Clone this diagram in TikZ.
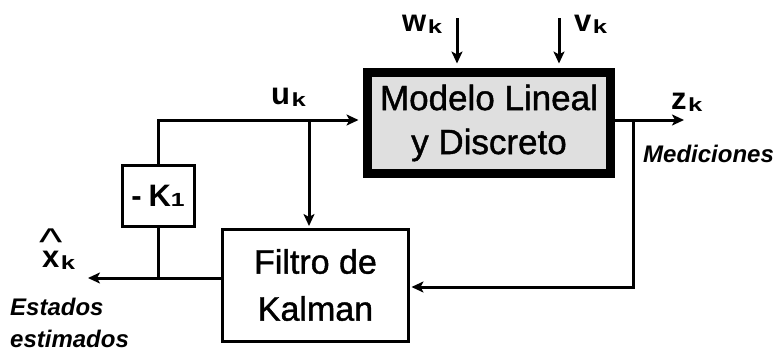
\documentclass[tikz,border=0pt]{standalone}
\usepackage{fontspec}
\setmainfont{Liberation Sans}
\newfontfamily\boxfont{Liberation Sans}[FakeBold=1.2]
\usetikzlibrary{arrows.meta}
% signal name: bold letter followed by a small, wide subscript
\newcommand\sigl[2]{{\fontsize{31}{31}\selectfont\bfseries #1}\kern1.5pt\raisebox{-2pt}{\fontsize{19}{19}\selectfont\bfseries\scalebox{1.35}[1]{#2}}}
\begin{document}
\begin{tikzpicture}[x=1pt,y=-1pt,
  wire/.style={line width=3pt},
  flow/.style={wire,-{Stealth[length=12pt,width=11pt,inset=3pt]}},
  plant/.style={draw,line width=9pt,fill=gray!25,minimum width=243pt,minimum height=101pt,
    align=center,font=\boxfont\fontsize{35}{44}\selectfont,inner sep=0pt},
  block/.style={draw,line width=3pt,align=center,inner sep=0pt},
  sig/.style={inner sep=0pt,anchor=base west},
  note/.style={inner sep=0pt,anchor=base west,font=\fontsize{24}{24}\selectfont\bfseries\itshape}]
\useasboundingbox (0,0) rectangle (777,351);

% blocks
\node[plant] (model) at (489,123) {Modelo Lineal\\y Discreto};
\node[block,minimum width=186pt,minimum height=112pt,font=\boxfont\fontsize{34}{47}\selectfont]
  (kalman) at (315.5,285) {Filtro de\\Kalman};
\node[block,minimum width=72pt,minimum height=61pt] (gain) at (158,196)
  {{\fontsize{31}{31}\selectfont\bfseries -\hspace{7pt}K}{\fontsize{19}{19}\selectfont\bfseries\scalebox{1.3}[1]{1}}};

% signal labels
\node[sig] (ulbl) at (271,104) {\sigl{u}{k}};
\node[sig] (wlbl) at (402,31) {\sigl{w}{k}};
\node[sig] (vlbl) at (574,31) {\sigl{v}{k}};
\node[sig] (zlbl) at (671,109) {\sigl{z}{k}};
\node[sig] (xlbl) at (42,267)
  {\sigl{\ooalign{x\cr\hidewidth\raisebox{12pt}{\mdseries\scalebox{1.6}[1.25]{\textasciicircum}}\hidewidth\cr}}{k}};
\node[note] (meas) at (643,162) {Mediciones};
\node[note] (est1) at (10,315) {Estados};
\node[note] (est2) at (10,347) {estimados};

% connection points
\coordinate (usplit) at (309,120);
\coordinate (wtop) at (457,18);
\coordinate (vtop) at (559,18);
\coordinate (zsplit) at (633,120);
\coordinate (zend) at (684,120);
\coordinate (fbcorner) at (633,287);
\coordinate (xend) at (88,278);

% connectors
\draw[wire] (gain.north) |- (usplit);
\draw[flow,shorten >=4.5pt] (usplit) -- (usplit -| model.west);
\draw[flow,shorten >=1.5pt] (usplit) -- (usplit |- kalman.north);
\draw[flow,shorten >=4.5pt] (wtop) -- (wtop |- model.north);
\draw[flow,shorten >=4.5pt] (vtop) -- (vtop |- model.north);
\draw[wire] (model.east |- zsplit) -- (zsplit);
\draw[flow] (zsplit) -- (zend);
\draw[flow,shorten >=1.5pt] (zsplit) |- (kalman.east |- fbcorner);
\draw[flow] (kalman.west |- xend) -- (xend);
\draw[wire] (gain.south) -- (gain.south |- xend);
\end{tikzpicture}
\end{document}
